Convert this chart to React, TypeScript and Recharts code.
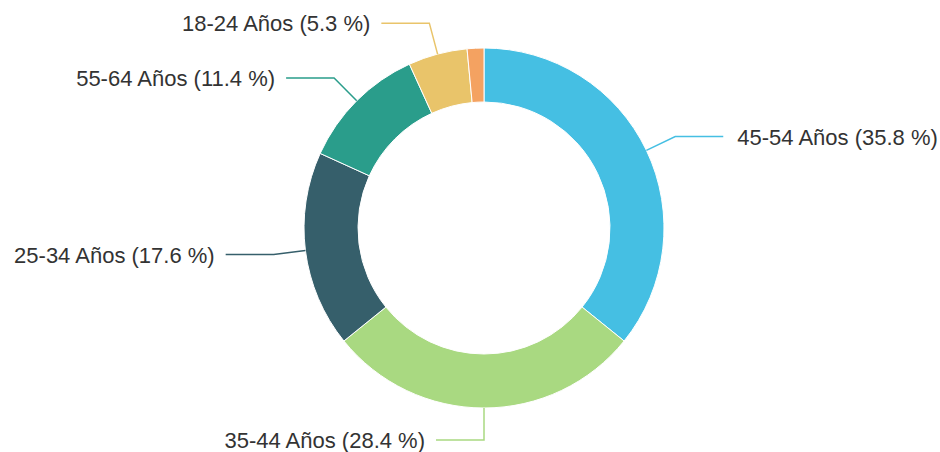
import React from 'react';
import { PieChart, Pie, Cell } from 'recharts';

const ageGroups = ['45-54 Años', '35-44 Años', '25-34 Años', '55-64 Años', '18-24 Años', '65+ Años'];
const shares = [35.8, 28.4, 17.6, 11.4, 5.3, 1.5];
const sliceColors = ['#45BFE3', '#A9D981', '#365F6B', '#2A9D8B', '#E9C46A', '#F4A261'];

const chartData = ageGroups.map((name, i) => ({ name, value: shares[i] }));

const RADIAN = Math.PI / 180;

const renderLabel = (props: any) => {
    const { cx, cy, midAngle, outerRadius, index, percent } = props;
    // tiny slices get no label, like the original
    if (percent < 0.02) return null;
    const cos = Math.cos(-midAngle * RADIAN);
    const sin = Math.sin(-midAngle * RADIAN);
    const sx = cx + outerRadius * cos;
    const sy = cy + outerRadius * sin;
    const mx = cx + (outerRadius + 32) * cos;
    const my = cy + (outerRadius + 32) * sin;
    const right = cos > 0.01;
    const ex = mx + (right ? 48 : -48);
    const tx = ex + (right ? 14 : -11);
    const color = sliceColors[index];
    return (
        <g>
            <polyline
                points={`${sx},${sy} ${mx},${my} ${ex},${my}`}
                fill="none"
                stroke={color}
                strokeWidth={1.5}
            />
            <text
                x={tx}
                y={my + 8}
                textAnchor={right ? 'start' : 'end'}
                fill="#333333"
                fontSize={22}
                fontFamily="'Liberation Sans', Arial, sans-serif"
            >
                {`${ageGroups[index]} (${shares[index]} %)`}
            </text>
        </g>
    );
};

const App: React.FC = () => {
    return (
        <div style={{ position: 'absolute', left: 0, top: 0, width: 940, height: 452, background: '#fff' }}>
            <PieChart width={940} height={452} margin={{ top: 0, right: 0, bottom: 0, left: 0 }}>
                <Pie
                    data={chartData}
                    dataKey="value"
                    nameKey="name"
                    cx={484}
                    cy={228}
                    innerRadius={126}
                    outerRadius={180}
                    startAngle={90}
                    endAngle={-270}
                    stroke="#ffffff"
                    strokeWidth={1}
                    label={renderLabel}
                    labelLine={false}
                    isAnimationActive={false}
                >
                    {chartData.map((entry, i) => (
                        <Cell key={entry.name} fill={sliceColors[i]} />
                    ))}
                </Pie>
            </PieChart>
        </div>
    );
};

export default App;
